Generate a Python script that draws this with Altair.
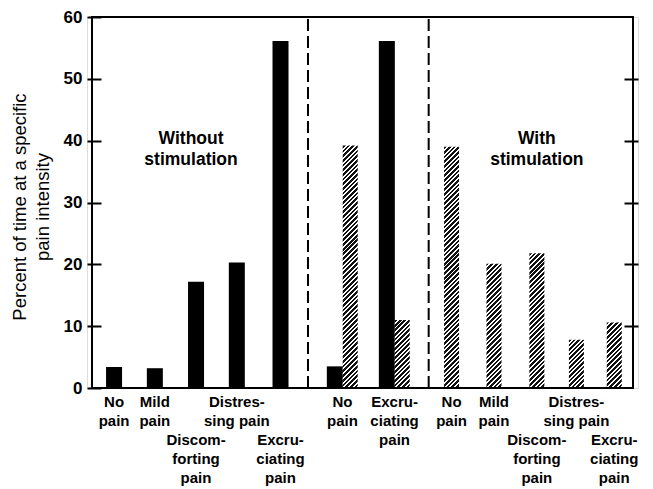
import altair as alt
import pandas as pd

# ---------------- data ----------------
intensity_labels = ["No\npain", "Mild\npain", "Discom-\nforting\npain", "Distres-\nsing pain", "Excru-\nciating\npain"]
label_rows = [1, 1, 2, 1, 2]
without_stim = [3.4, 3.2, 17.2, 20.3, 56.1]          # left panel (black)
compare_labels = ["No\npain", "Excru-\nciating\npain"]
compare_without = [3.5, 56.1]                          # middle panel, black
compare_with = [39.2, 11.0]                            # middle panel, hatched
with_stim = [39.0, 20.1, 21.8, 7.8, 10.6]             # right panel (hatched)
y_ticks = [0, 10, 20, 30, 40, 50, 60]
panel_titles = ["Without\nstimulation", "With\nstimulation"]
y_title = ["Percent of time at a specific", "pain intensity"]

# ---------------- layout ----------------
W, H = 551, 371
X_MAX = 13.0
left_slots = [0.53, 1.51, 2.5, 3.48, 4.53]
mid_slots = [6.02, 7.27]
right_slots = [8.64, 9.66, 10.69, 11.64, 12.55]
divider_slots = [5.19, 8.09]
pair_shift = 0.185
panel_title_slots = [2.38, 10.69]
panel_title_level = 40.3

LABEL_FONT = "Liberation Sans Narrow, Liberation Sans, Arial"
MAIN_FONT = "Liberation Sans, Arial, Helvetica"


def hatch_fill(value, w=15.0, period=3.3, dark=0.58):
    h = max(value * H / 60.0, 0.5)
    lam = (w + h) / (w * w + h * h)
    n = max(1, round((w + h) / (period * 2 ** 0.5)))
    stops = []
    for k in range(n):
        a, b, c = k / n, (k + dark) / n, (k + 1) / n
        stops += [
            {"offset": a, "color": "#111111"},
            {"offset": b, "color": "#111111"},
            {"offset": b, "color": "#ffffff"},
            {"offset": c, "color": "#ffffff"},
        ]
    return {"gradient": "linear", "x1": 0, "y1": 0, "x2": w * lam, "y2": h * lam, "stops": stops}


solid = pd.DataFrame({
    "pos": left_slots + [p - pair_shift for p in mid_slots],
    "value": without_stim + compare_without,
})
hatched_vals = compare_with + with_stim
hatched = pd.DataFrame({
    "pos": [p + pair_shift for p in mid_slots] + right_slots,
    "value": hatched_vals,
    "grad": [hatch_fill(v) for v in hatched_vals],
})
labels = pd.DataFrame({
    "pos": left_slots + mid_slots + right_slots,
    "text": intensity_labels + compare_labels + intensity_labels,
    "row": label_rows + [1, 1] + label_rows,
    "zero": 0,
})
dividers = pd.DataFrame({"pos": divider_slots, "y0": 0, "y1": 60})
titles = pd.DataFrame({"pos": panel_title_slots, "text": panel_titles, "lvl": panel_title_level})
frame = pd.DataFrame({"x0": [0], "x1": [X_MAX], "y0": [0], "y1": [60]})

xscale = alt.Scale(domain=[0, X_MAX], nice=False, zero=False)
yscale = alt.Scale(domain=[0, 60], nice=False)

bars_solid = alt.Chart(solid).mark_bar(size=16, color="black", aria=False).encode(
    x=alt.X("pos:Q", scale=xscale, axis=None),
    y=alt.Y("value:Q", scale=yscale, axis=alt.Axis(
        orient="left", values=y_ticks, grid=False, domain=False,
        tickSize=14, offset=-14, tickWidth=2, tickColor="black",
        labelPadding=5, labelFont=MAIN_FONT, labelFontSize=17, labelFontWeight="bold",
        labelColor="black", title=y_title, titleFont=MAIN_FONT, titleFontSize=18.5,
        titleFontWeight="normal", titleColor="black", titleLineHeight=23, titlePadding=11,
        titleY=H / 2 + 4,
    )),
)

bars_hatch = alt.Chart(hatched).mark_bar(size=15, aria=False).encode(
    x=alt.X("pos:Q", scale=xscale, axis=None),
    y=alt.Y("value:Q", scale=yscale, axis=alt.Axis(
        orient="right", values=[10, 20, 30, 40, 50], grid=False, domain=False,
        tickSize=14, offset=-14, tickWidth=2, tickColor="black",
        labels=False, title=None,
    )),
    fill=alt.Fill("grad:N", scale=None, legend=None),
)

box = alt.Chart(frame).mark_rect(filled=False, stroke="black", strokeWidth=2).encode(
    x=alt.X("x0:Q", scale=xscale, axis=None),
    x2="x1:Q",
    y=alt.Y("y0:Q", scale=yscale, axis=None),
    y2="y1:Q",
)

rules = alt.Chart(dividers).mark_rule(color="black", strokeWidth=2, strokeDash=[12, 5]).encode(
    x=alt.X("pos:Q", scale=xscale, axis=None),
    y=alt.Y("y0:Q", scale=yscale, axis=None),
    y2="y1:Q",
)


def label_layer(row, dy):
    return alt.Chart(labels).transform_filter(alt.datum.row == row).mark_text(
        baseline="top", align="center", dy=dy, lineBreak="\n", lineHeight=19,
        font=LABEL_FONT, fontSize=15, fontWeight="bold", color="black",
    ).encode(
        x=alt.X("pos:Q", scale=xscale, axis=None),
        y=alt.Y("zero:Q", scale=yscale, axis=None),
        text="text:N",
    )


panel_text = alt.Chart(titles).mark_text(
    baseline="middle", align="center", lineBreak="\n", lineHeight=21,
    font=MAIN_FONT, fontSize=17.5, fontWeight="bold", color="black",
).encode(
    x=alt.X("pos:Q", scale=xscale, axis=None),
    y=alt.Y("lvl:Q", scale=yscale, axis=None),
    text="text:N",
)

chart = alt.layer(
    bars_solid, bars_hatch, box, rules, label_layer(1, 7), label_layer(2, 45), panel_text
).resolve_axis(y="independent").properties(
    width=W, height=H,
    autosize=alt.AutoSizeParams(type="none"),
    padding={"left": 79, "top": 9, "right": 7, "bottom": 101},
).configure_view(stroke=None).configure(background="white")

chart.save("out.html", embed_options={"renderer": "svg", "actions": False})
